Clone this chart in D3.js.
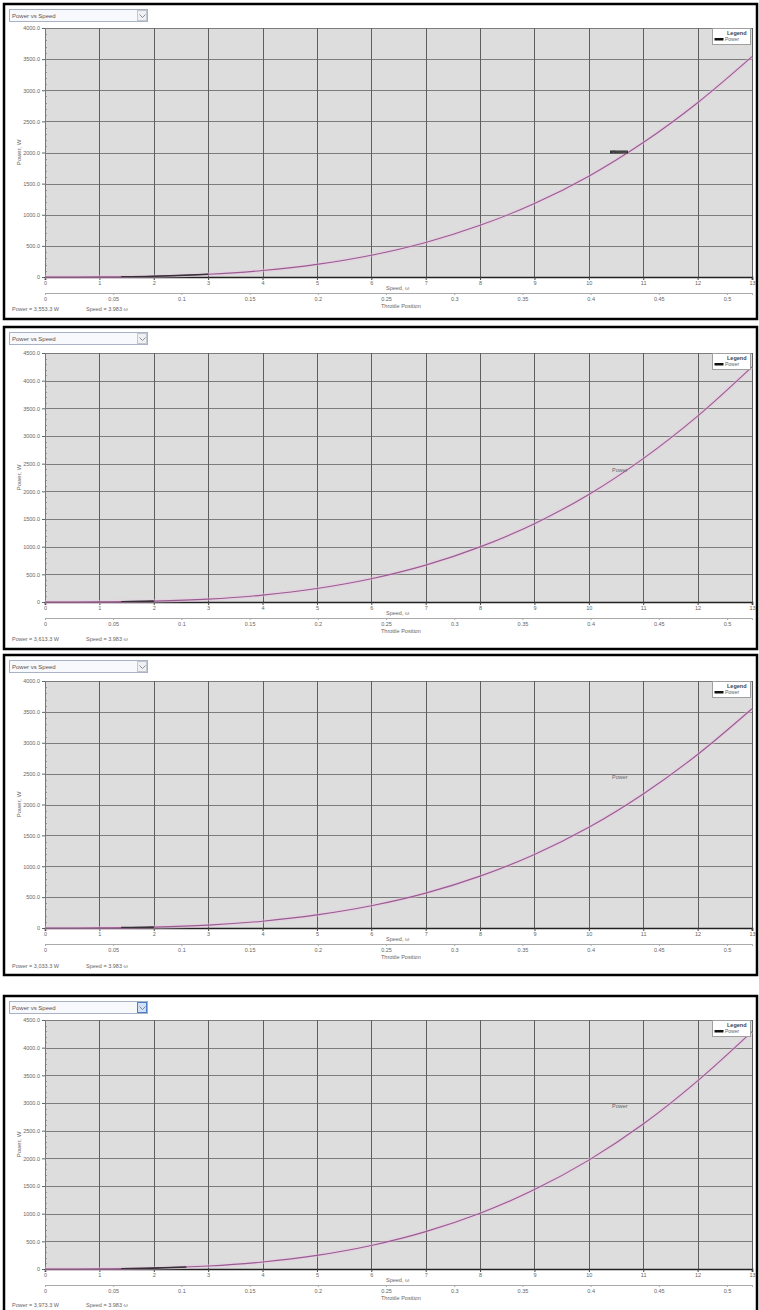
<!DOCTYPE html>
<html><head><meta charset="utf-8">
<script src="https://cdn.jsdelivr.net/npm/d3@7"></script>
<style>body{margin:0;background:#fff}svg{display:block}text{font-family:"Liberation Sans",Arial,sans-serif}</style>
</head><body>
<svg id="c" width="759" height="1310"></svg>
<script>
// ---------- data ----------
const speeds = [0,1,2,3,4,5,6,7,8,9,10,11,12,13];
const power1 = [0,2,13,43,104,203,350,555,830,1180,1620,2160,2800,3540];
const power2 = [0,2,16,52,125,244,420,666,996,1416,1944,2592,3360,4250];
const power3 = [0,2,14,46,110,212,360,565,840,1190,1630,2170,2810,3550];
const power4 = [0,2,16,53,126,246,425,675,1008,1435,1968,2620,3400,4290];
const yTicksA = [0,500,1000,1500,2000,2500,3000,3500,4000];
const yTicksB = [0,500,1000,1500,2000,2500,3000,3500,4000,4500];
const throttleTicks = [0,0.05,0.1,0.15,0.2,0.25,0.3,0.35,0.4,0.45,0.5];
const throttleMax = 0.5183;
const statusPower = ["3,553.3","3,613.3","3,033.3","3,973.3"];
const statusSpeed = ["3.983","3.983","3.983","3.983"];
const highlightSpeed = [[1.4,3.0],[1.4,2.0],[1.4,2.0],[1.4,2.6]];
const chartTitle = "Power vs Speed";
const seriesName = "Power";

// ---------- layout ----------
const panels = [
  {top:4, bottom:319, plotTop:28, plotBottom:277, power:power1, yTicks:yTicksA, statusDy:34, labelY:152, dash:true},
  {top:327, bottom:649, plotTop:353, plotBottom:602, power:power2, yTicks:yTicksB, statusDy:39, labelY:470, dash:false},
  {top:655, bottom:975, plotTop:681, plotBottom:928, power:power3, yTicks:yTicksA, statusDy:40, labelY:777, dash:false},
  {top:996, bottom:1312, plotTop:1020, plotBottom:1269, power:power4, yTicks:yTicksB, statusDy:38, labelY:1106, dash:false, blueBtn:true}
];
const X0 = 45, X1 = 752;
const svg = d3.select("#c");
const fmtY = d => d === 0 ? "0" : d3.format(".1f")(d);

panels.forEach((p, i) => {
  const g = svg.append("g");
  const x = d3.scaleLinear().domain([0, 13]).range([X0, X1]);
  const xt = d3.scaleLinear().domain([0, throttleMax]).range([X0, X1]);
  const yMax = p.yTicks[p.yTicks.length - 1];
  const y = d3.scaleLinear().domain([0, yMax]).range([p.plotBottom, p.plotTop]);

  g.append("rect").attr("x", 4).attr("y", p.top).attr("width", 753).attr("height", p.bottom - p.top)
    .attr("fill", "#fff").attr("stroke", "#000").attr("stroke-width", 2.5);

  const dy = p.top + 5;
  g.append("rect").attr("x", 9.5).attr("y", dy + 0.5).attr("width", 138).attr("height", 12)
    .attr("fill", "#f7f9fc").attr("stroke", "#a9b2c4");
  g.append("rect").attr("x", 137.5).attr("y", dy + 1.5).attr("width", 9).attr("height", 10)
    .attr("fill", p.blueBtn ? "#cfe0f7" : "#eef0f3").attr("stroke", p.blueBtn ? "#4d7fc9" : "#c3c8d0");
  g.append("path").attr("d", `M139.5,${dy+5.5} l3,3 l3,-3`).attr("fill", "none").attr("stroke", "#777").attr("stroke-width", 0.8);
  g.append("text").attr("x", 12).attr("y", dy + 9).attr("font-size", 6).attr("fill", "#555").text(chartTitle);

  g.append("rect").attr("x", X0).attr("y", p.plotTop).attr("width", X1 - X0).attr("height", p.plotBottom - p.plotTop)
    .attr("fill", "#dddddd");

  g.append("g").selectAll("line").data(p.yTicks.slice(1)).join("line")
    .attr("x1", X0).attr("x2", X1).attr("y1", d => Math.round(y(d)) + 0.5).attr("y2", d => Math.round(y(d)) + 0.5)
    .attr("stroke", "#7c7c7c").attr("stroke-width", 1);
  g.append("g").selectAll("line").data(speeds.slice(1)).join("line")
    .attr("y1", p.plotTop).attr("y2", p.plotBottom).attr("x1", d => Math.round(x(d)) + 0.5).attr("x2", d => Math.round(x(d)) + 0.5)
    .attr("stroke", "#5e5e5e").attr("stroke-width", 1);

  const step = p.yTicks[1] - p.yTicks[0];
  const minor = d3.range(0, yMax + 1, step / 5).filter(v => v % step !== 0);
  g.append("g").selectAll("line").data(minor).join("line")
    .attr("x1", X0).attr("x2", X0 + 2).attr("y1", d => Math.round(y(d)) + 0.5).attr("y2", d => Math.round(y(d)) + 0.5)
    .attr("stroke", "#999");
  const ay = g.append("g").attr("transform", `translate(${X0},0)`)
    .call(d3.axisLeft(y).tickValues(p.yTicks).tickFormat(fmtY).tickSize(3).tickPadding(2));
  ay.select(".domain").attr("stroke", "#777");
  ay.selectAll(".tick line").attr("stroke", "#666");
  ay.selectAll("text").attr("font-size", 5.5).attr("fill", "#666").attr("font-family", "Liberation Sans, Arial");
  g.append("text").attr("transform", `translate(21,${(p.plotTop + p.plotBottom) / 2}) rotate(-90)`)
    .attr("text-anchor", "middle").attr("font-size", 6).attr("fill", "#666").text("Power, W");

  const ax = g.append("g").attr("transform", `translate(0,${p.plotBottom})`)
    .call(d3.axisBottom(x).tickValues(speeds).tickFormat(d3.format("d")).tickSize(3).tickPadding(1));
  ax.select(".domain").attr("stroke", "#222").attr("stroke-width", 1.6);
  ax.selectAll(".tick line").attr("stroke", "#444");
  ax.selectAll("text").attr("font-size", 5.5).attr("fill", "#666").attr("font-family", "Liberation Sans, Arial");
  g.append("text").attr("x", 386).attr("y", p.plotBottom + 13).attr("font-size", 5.5).attr("fill", "#666").text("Speed, ω");

  const at = g.append("g").attr("transform", `translate(0,${p.plotBottom + 16})`)
    .call(d3.axisBottom(xt).tickValues(throttleTicks).tickFormat(d => d === 0 ? "0" : String(d)).tickSize(2).tickPadding(2));
  at.select(".domain").attr("stroke", "#aaa");
  at.selectAll(".tick line").attr("stroke", "#aaa");
  at.selectAll("text").attr("font-size", 5.5).attr("fill", "#666").attr("font-family", "Liberation Sans, Arial");
  g.append("text").attr("x", 381).attr("y", p.plotBottom + 31).attr("font-size", 5.5).attr("fill", "#666").text("Throttle Position");

  g.append("text").attr("x", 12).attr("y", p.plotBottom + p.statusDy).attr("font-size", 5.5).attr("fill", "#666")
    .text(`Power  =  ${statusPower[i]} W`);
  g.append("text").attr("x", 86).attr("y", p.plotBottom + p.statusDy).attr("font-size", 5.5).attr("fill", "#666")
    .text(`Speed  =  ${statusSpeed[i]} ω`);

  const pts = speeds.map((s, k) => [s, p.power[k]]);
  const line = d3.line().x(d => x(d[0])).y(d => y(d[1])).curve(d3.curveCatmullRom);
  g.append("path").attr("d", line(pts)).attr("fill", "none").attr("stroke", "#ecc6e4").attr("stroke-width", 4).attr("opacity", 0.4);
  g.append("path").attr("d", line(pts)).attr("fill", "none").attr("stroke", "#9a5a92").attr("stroke-width", 1.1);
  const cid = "hl" + i;
  g.append("clipPath").attr("id", cid).append("rect")
    .attr("x", x(highlightSpeed[i][0])).attr("width", x(highlightSpeed[i][1]) - x(highlightSpeed[i][0]))
    .attr("y", p.plotTop).attr("height", p.plotBottom - p.plotTop);
  g.append("path").attr("d", line(pts)).attr("fill", "none").attr("stroke", "#333").attr("stroke-width", 1.6)
    .attr("clip-path", `url(#${cid})`);

  if (p.dash) {
    g.append("rect").attr("x", 610).attr("y", p.labelY - 1.5).attr("width", 18).attr("height", 3).attr("fill", "#333");
  }
  g.append("text").attr("x", 612).attr("y", p.labelY + 2).attr("font-size", 5.5).attr("fill", "#666").text(seriesName);

  const lx = 712, ly = p.plotTop + 0.5;
  g.append("rect").attr("x", lx + 0.5).attr("y", ly).attr("width", 38).attr("height", 16)
    .attr("fill", "#fff").attr("stroke", "#a0a0a0");
  g.append("text").attr("x", lx + 15).attr("y", ly + 6.5).attr("font-size", 5.5).attr("font-weight", "bold").attr("fill", "#444").text("Legend");
  g.append("rect").attr("x", lx + 2.5).attr("y", ly + 9.5).attr("width", 9).attr("height", 2.5).attr("fill", "#111");
  g.append("text").attr("x", lx + 13).attr("y", ly + 12.5).attr("font-size", 5).attr("fill", "#666").text(seriesName);
});
</script>
</body></html>
